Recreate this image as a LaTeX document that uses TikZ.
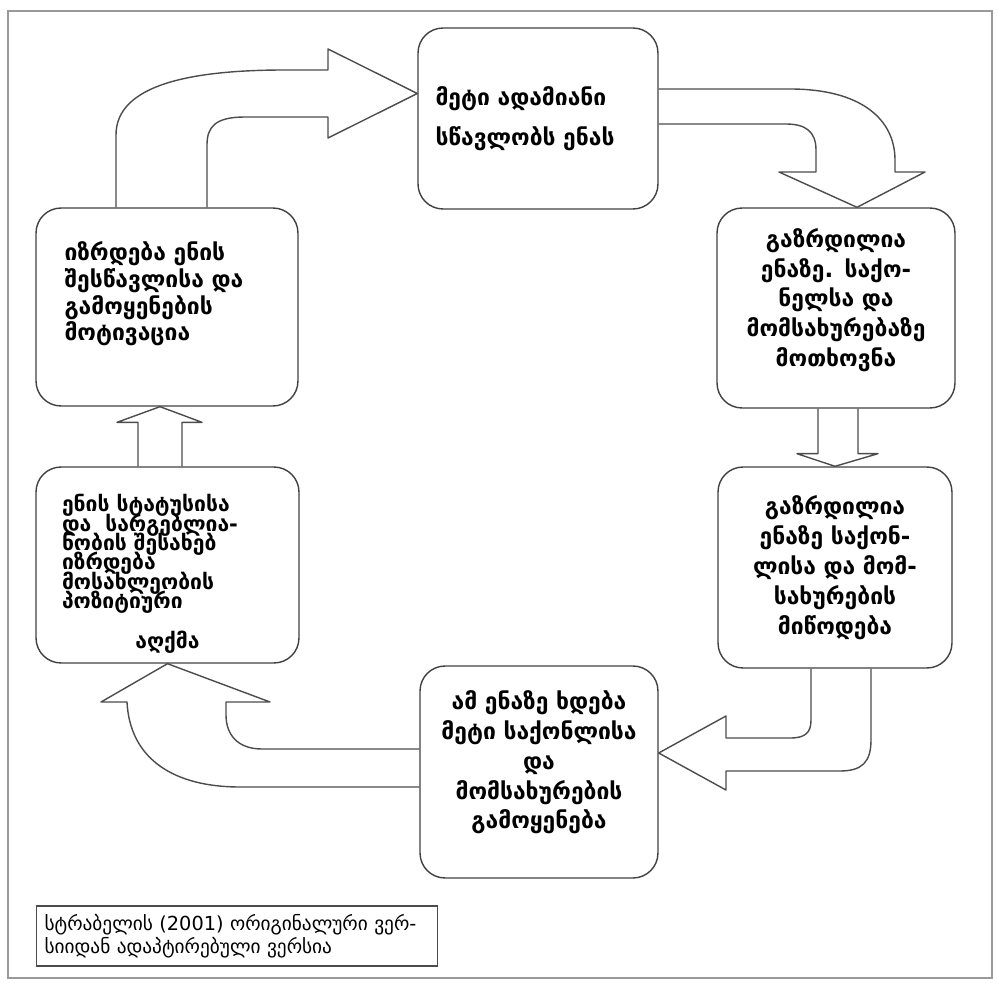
\documentclass[tikz,border=0pt]{standalone}
\usepackage{fontspec}
\setmainfont{DejaVu Sans}
\usetikzlibrary{calc}

\begin{document}
\begin{tikzpicture}[
    x=0.02cm, y=-0.02cm,
    stage/.style={draw=black!75, line width=0.8pt, rounded corners=0.5cm,
                  inner sep=0pt, font=\bfseries\fontsize{13}{17}\selectfont},
    flow/.style={draw=black!70, line width=0.8pt, line join=round},
    note/.style={draw=black!70, line width=0.6pt, inner sep=0pt,
                 font=\fontsize{11}{13}\selectfont, align=left},
]
  \useasboundingbox (0,0) rectangle (998,983);

  % ---- Frame ----
  \draw[black!40, line width=0.6pt] (8,11) rectangle (992,978);

  % ---- Stages of the cycle ----
  \node[stage, minimum width=4.8cm, minimum height=3.62cm, text width=4.1cm,
        align=left, font=\bfseries\fontsize{13}{22.7}\selectfont]
    (learn) at (538,118.5) {მეტი ადამიანი\\სწავლობს ენას};

  \node[stage, minimum width=4.76cm, minimum height=4.0cm, text width=4.6cm,
        align=center, text depth=80pt] (demand) at (836,308)
    {გაზრდილია\\ენაზე. საქო-\\ნელსა და\\მომსახურებაზე\\მოთხოვნა};

  \node[stage, minimum width=4.68cm, minimum height=4.02cm, text width=4.5cm,
        align=center] (supply) at (835,567.5)
    {გაზრდილია\\ენაზე საქონ-\\ლისა და მომ-\\სახურების\\მიწოდება};

  \node[stage, minimum width=4.76cm, minimum height=4.24cm, text width=4.5cm,
        align=center, text depth=82pt] (use) at (539,772)
    {ამ ენაზე ხდება\\მეტი საქონლისა\\და\\მომსახურების\\გამოყენება};

  \node[stage, minimum width=5.26cm, minimum height=3.92cm, text width=4.22cm,
        align=left, text height=20pt, font=\bfseries\fontsize{12}{11}\selectfont]
    (status) at (167.5,565)
    {\setlength\lineskiplimit{-20pt}ენის სტატუსისა\\და~~სარგებლია-\\ნობის შესახებ\\იზრდება\\მოსახლეობის\\პოზიტიური\\[9pt]\makebox[\hsize]{აღქმა}};

  \node[stage, minimum width=5.24cm, minimum height=3.96cm, text width=4.1cm,
        align=left, text depth=64pt, font=\bfseries\fontsize{13}{15.3}\selectfont]
    (motive) at (167,307)
    {იზრდება ენის\\შესწავლისა და\\გამოყენების\\მოტივაცია};

  % ---- Block arrows ----
  \draw[flow] ($(motive.north)+(-51,0)$) -- (116,135)
    .. controls (116,85) and (190,70) .. (285,70) -- (328,70) -- (328,49)
    -- ($(learn.west)+(0,-25)$) -- (328,138) -- (328,117) -- (245,117)
    .. controls (215,117) and (207,127) .. (207,145)
    -- ($(motive.north)+(40,0)$);

  \draw[flow] ($(learn.east)+(0,-29.5)$) -- (790,89)
    .. controls (862,89) and (895,120) .. (895,160) -- (895,172) -- (925,172)
    -- ($(demand.north)+(21,0)$) -- (779,172) -- (816,172) -- (816,150)
    .. controls (816,132) and (806,124) .. (786,124)
    -- ($(learn.east)+(0,5.5)$);

  \draw[flow] ($(demand.south)+(-18,0)$) -- ++(0,45) -- ++(-21,0)
    -- (supply.north) -- ($(demand.south)+(42,45)$) -- ++(-20,0)
    -- ($(demand.south)+(22,0)$);

  \draw[flow] ($(supply.south)+(-24,0)$) -- (811,720)
    .. controls (811,733) and (805,738) .. (790,738) -- (726,738) -- (726,716)
    -- ($(use.east)+(0,-19)$) -- (726,790) -- (726,771) -- (840,771)
    .. controls (862,771) and (871,762) .. (871,740)
    -- ($(supply.south)+(36,0)$);

  \draw[flow] ($(use.west)+(0,-23)$) -- (262,749)
    .. controls (238,749) and (226,735) .. (226,715) -- (226,702) -- (270,702)
    -- (status.south) -- (101,702) -- (127,702)
    .. controls (130,760) and (175,787) .. (240,787)
    -- ($(use.west)+(0,15)$);

  \draw[flow] ($(status.north)+(-29.5,0)$) -- ++(0,-44) -- ++(-21,0)
    -- ($(motive.south)+(-7,0)$) -- ($(status.north)+(34.5,-44)$)
    -- ++(-20,0) -- ($(status.north)+(14.5,0)$);

  % ---- Source note ----
  \node[note, minimum width=8.04cm, minimum height=1.2cm, text width=7.7cm]
    (source) at (237,936)
    {სტრაბელის (2001) ორიგინალური ვერ-\\სიიდან ადაპტირებული ვერსია};

\end{tikzpicture}
\end{document}
